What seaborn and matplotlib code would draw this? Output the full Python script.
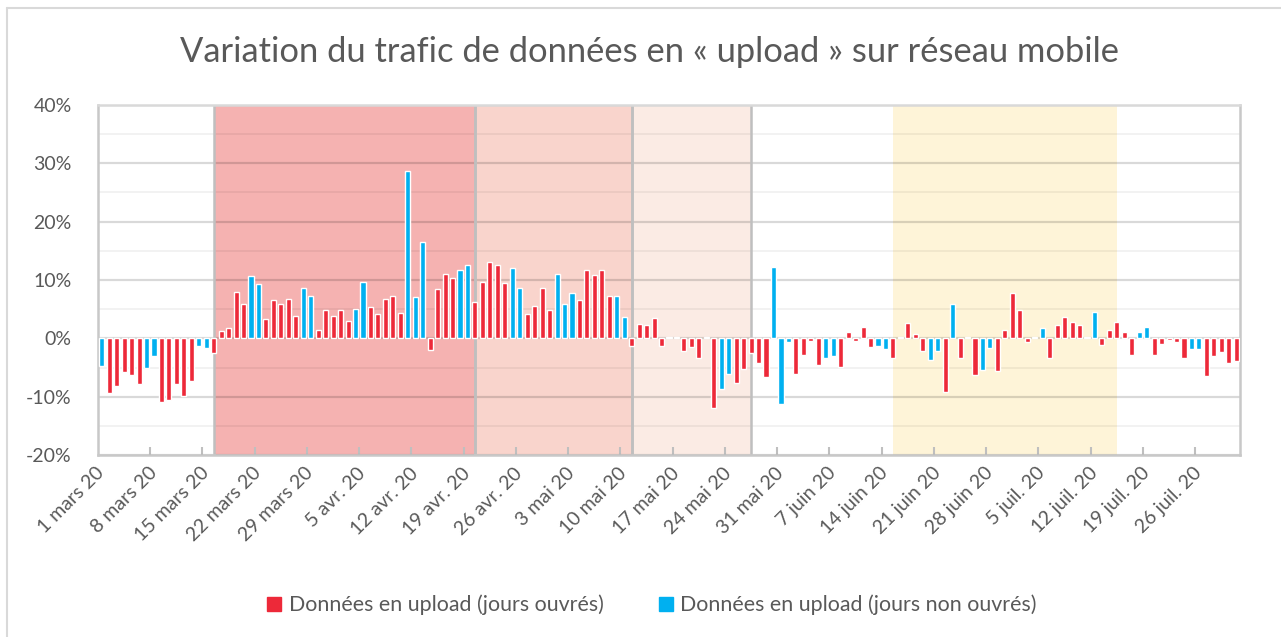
import numpy as np
import pandas as pd
import seaborn as sns
import matplotlib.pyplot as plt
from matplotlib.ticker import MultipleLocator, FuncFormatter
from matplotlib.patches import Patch
from matplotlib.lines import Line2D

# Daily variation of mobile upload traffic (%), 1 March -> 31 July 2020
jours = pd.date_range('2020-03-01', '2020-07-31', freq='D')
variation = [
    -4.8, -9.3, -8.2, -5.8, -6.3, -7.9, -5.0,
    -3.0, -10.9, -10.6, -7.9, -9.9, -7.3, -1.3,
    -1.7, -2.6, 1.3, 1.7, 7.9, 5.8, 10.6,
    9.3, 3.3, 6.5, 5.8, 6.7, 3.9, 8.7,
    7.3, 1.5, 4.8, 3.9, 4.8, 3.0, 5.0,
    9.6, 5.4, 4.1, 6.7, 7.2, 4.3, 28.7,
    7.1, 16.5, -2.0, 8.4, 11.1, 10.4, 11.7,
    12.6, 6.3, 9.7, 13.0, 12.6, 9.5, 12.1,
    8.7, 4.1, 5.6, 8.7, 4.8, 11.1, 5.8,
    7.8, 6.5, 11.7, 10.8, 11.7, 7.3, 7.3,
    3.6, -1.3, 2.5, 2.3, 3.4, -1.3, 0.2,
    0.2, -2.2, -1.5, -3.3, 0.2, -12.0, -8.7,
    -6.1, -7.6, -5.2, -2.6, -4.3, -6.7, 12.3,
    -11.3, -0.7, -6.1, -2.8, -0.4, -4.6, -3.4,
    -3.0, -4.9, 1.0, -0.4, 1.9, -1.5, -1.3,
    -1.8, -3.3, 0.3, 2.6, 0.8, -2.2, -3.7,
    -2.2, -9.2, 5.8, -3.4, 0.2, -6.3, -5.4,
    -1.7, -5.6, 1.5, 7.8, 4.8, -0.6, 0.3,
    1.7, -3.4, 2.3, 3.6, 2.8, 2.3, 0.2,
    4.5, -1.1, 1.5, 2.8, 1.0, -2.9, 1.0,
    1.9, -2.9, -0.9, -0.3, -0.6, -3.4, -1.8,
    -1.8, -6.5, -3.0, -2.4, -4.2, -3.9,
]
# non-working days besides weekends, as coloured in the chart
autres_jours_non_ouvres = ['2020-04-13', '2020-05-01', '2020-05-21', '2020-06-01', '2020-06-23']

etiquettes = ['1 mars 20', '8 mars 20', '15 mars 20', '22 mars 20', '29 mars 20',
              '5 avr. 20', '12 avr. 20', '19 avr. 20', '26 avr. 20', '3 mai 20',
              '10 mai 20', '17 mai 20', '24 mai 20', '31 mai 20', '7 juin 20',
              '14 juin 20', '21 juin 20', '28 juin 20', '5 juil. 20', '12 juil. 20',
              '19 juil. 20', '26 juil. 20']

periodes_debut = ['2020-03-16', '2020-04-20', '2020-05-11', '2020-06-15']
periodes_fin = ['2020-04-20', '2020-05-11', '2020-05-27', '2020-07-15']
periodes_couleur = ['#F5B2B1', '#F9D4CC', '#FBEBE4', '#FEF4D8']
periodes_bordure = [True, True, True, False]

lab_o = 'Données en upload (jours ouvrés)'
lab_n = 'Données en upload (jours non ouvrés)'
rouge = '#ED2939'
bleu = '#00B0F0'
gris_txt = '#595959'

sns.set_theme(style='white')
plt.rcParams['font.family'] = ['Lato', 'DejaVu Sans']

non_ouvre = (jours.dayofweek >= 5) | jours.isin(pd.to_datetime(autres_jours_non_ouvres))
df = pd.DataFrame({
    'pos': np.arange(len(jours)),
    'variation': variation,
    'type': np.where(non_ouvre, lab_n, lab_o),
})

fig = plt.figure(figsize=(12.81, 6.37), dpi=100)
ax = fig.add_axes([0.0765, 0.2857, 0.8915, 0.5495])

# shaded periods
for d0, d1, c, b in zip(periodes_debut, periodes_fin, periodes_couleur, periodes_bordure):
    p0 = jours.get_loc(pd.Timestamp(d0))
    p1 = jours.get_loc(pd.Timestamp(d1))
    ax.axvspan(p0, p1, color=c, lw=0, zorder=0)
    if b:
        ax.axvline(p0, color='#BFBFBF', lw=1.8, zorder=0.6)
        ax.axvline(p1, color='#BFBFBF', lw=1.8, zorder=0.6)

sns.barplot(data=df, x='pos', y='variation', hue='type', hue_order=[lab_o, lab_n],
            palette=[rouge, bleu], dodge=False, width=0.68, saturation=1,
            legend=False, ax=ax, zorder=3)

ax.set_xlim(-0.5, len(jours) - 0.5)
ax.set_ylim(-20, 40)
ax.yaxis.set_major_locator(MultipleLocator(10))
ax.yaxis.set_minor_locator(MultipleLocator(5))
ax.yaxis.set_major_formatter(FuncFormatter(lambda v, _: f'{v:.0f}%'))
ax.set_axisbelow(True)
ax.grid(True, axis='y', which='major', color='black', alpha=0.15, lw=1.6)
ax.grid(True, axis='y', which='minor', color='black', alpha=0.05, lw=1.4)
ax.grid(False, axis='x')

ax.set_xticks(np.arange(0, len(jours), 7))
ax.set_xticklabels(etiquettes)
ax.set_xticks(np.arange(6.5, len(jours), 7), minor=True)
ax.tick_params(axis='x', which='major', length=0, pad=11, labelsize=14, labelcolor=gris_txt)
ax.tick_params(axis='x', which='minor', direction='in', length=6, width=1.5, color='#BFBFBF', bottom=True)
for t in ax.get_xticklabels():
    t.set_rotation(45)
    t.set_ha('right')
    t.set_va('center')
    t.set_rotation_mode('anchor')
ax.tick_params(axis='y', which='both', length=0, pad=19, labelsize=14, labelcolor=gris_txt)
ax.set_xlabel('')
ax.set_ylabel('')
for s in ax.spines.values():
    s.set_color('#C8C8C8')
    s.set_linewidth(1.8)
ax.spines['top'].set_color('#D9D9D9')

fig.text(0.507, 1 - 52 / 637, 'Variation du trafic de données en « upload » sur réseau mobile',
         ha='center', va='center', fontsize=24.8, color=gris_txt)

handles = [Patch(color=rouge), Patch(color=bleu)]
fig.legend(handles, [lab_o, lab_n], loc='center', bbox_to_anchor=(0.509, 1 - 605 / 637),
           ncol=2, frameon=False, fontsize=15.4, handlelength=0.65, handleheight=0.65,
           handletextpad=0.35, columnspacing=2.6, labelcolor=gris_txt)

# chart area border (top and left edges visible)
fig.add_artist(Line2D([7 / 1281, 1], [1 - 8 / 637] * 2, transform=fig.transFigure, color='#D9D9D9', lw=1.5))
fig.add_artist(Line2D([7 / 1281] * 2, [0, 1 - 8 / 637], transform=fig.transFigure, color='#D9D9D9', lw=1.5))

fig.savefig('out.png', dpi=100)
